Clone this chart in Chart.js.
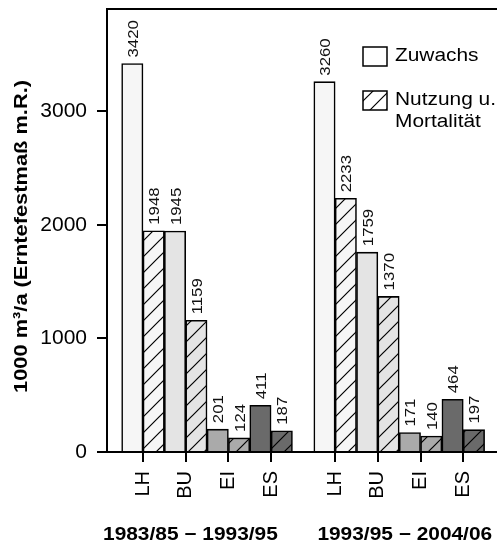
<!DOCTYPE html>
<html>
<head>
<meta charset="utf-8">
<script src="https://cdn.jsdelivr.net/npm/chart.js@4"></script>
<style>
  html, body { margin: 0; padding: 0; background: #fff; }
</style>
</head>
<body>
<canvas id="chart" width="497" height="547"></canvas>
<script>
// Chart data
const species = ['LH', 'BU', 'EI', 'ES'];
const periods = ['1983/85 \u2212 1993/95', '1993/95 \u2212 2004/06'];
const tickPositions = [1, 2, 3, 4, 5.5, 6.5, 7.5, 8.5];
const zuwachs = [3420, 1945, 201, 411, 3260, 1759, 171, 464];
const nutzung = [1948, 1159, 124, 187, 2233, 1370, 140, 197];
const yTicks = [0, 1000, 2000, 3000];
const seriesNames = ['Zuwachs', 'Nutzung u.|Mortalit\u00e4t'];
const yTitle = '1000 m\u00b3/a (Erntefestma\u00df m.R.)';

const FONT = '"Liberation Sans", Arial, Helvetica, sans-serif';
const speciesColors = ['#f6f6f6', '#e4e4e4', '#aaaaaa', '#6a6a6a'];

const canvas = document.getElementById('chart');
const ctx = canvas.getContext('2d');

// Diagonal hatch pattern on a given background
function hatch(color) {
  const size = 16;
  const tile = document.createElement('canvas');
  tile.width = size;
  tile.height = size;
  const g = tile.getContext('2d');
  g.fillStyle = color;
  g.fillRect(0, 0, size, size);
  g.strokeStyle = '#000';
  g.lineWidth = 1.2;
  g.beginPath();
  g.moveTo(-2, size + 2); g.lineTo(size + 2, -2);
  g.moveTo(-2, 2); g.lineTo(2, -2);
  g.moveTo(size - 2, size + 2); g.lineTo(size + 2, size - 2);
  g.stroke();
  return ctx.createPattern(tile, 'repeat');
}

// Text drawn with a stretch along its own direction
function stretchedText(c, text, x, y, angle, sx, font, align) {
  c.save();
  c.font = font;
  c.textAlign = align || 'left';
  c.textBaseline = 'alphabetic';
  c.translate(x, y);
  c.rotate(angle);
  c.scale(sx, 1);
  c.fillText(text, 0, 0);
  c.restore();
}

const valueLabels = {
  id: 'valueLabels',
  afterDatasetsDraw(chart) {
    const c = chart.ctx;
    c.fillStyle = '#111';
    chart.data.datasets.forEach((ds, di) => {
      chart.getDatasetMeta(di).data.forEach((bar, i) => {
        stretchedText(c, String(ds.data[i].y), bar.x + 5.5, bar.y - 6, -Math.PI / 2, 1.12, '15px ' + FONT, 'left');
      });
    });
  }
};

const decorations = {
  id: 'decorations',
  afterDraw(chart) {
    const c = chart.ctx;
    const area = chart.chartArea;
    const xs = chart.scales.x;

    // top frame line
    c.save();
    c.strokeStyle = '#000';
    c.lineWidth = 2;
    c.beginPath();
    c.moveTo(area.left - 1, area.top);
    c.lineTo(area.right, area.top);
    c.stroke();
    c.restore();

    c.fillStyle = '#000';

    // y axis title
    stretchedText(c, yTitle, 27, (area.top + area.bottom) / 2 + 6, -Math.PI / 2, 1.18, 'bold 18.5px ' + FONT, 'center');

    // period labels
    const periodCenters = [2.11, 7.13];
    periods.forEach((p, i) => {
      stretchedText(c, p, xs.getPixelForValue(periodCenters[i]), 540, 0, 1.16, 'bold 18px ' + FONT, 'center');
    });

    // legend
    const lx = 363, boxW = 24, boxH = 19;
    const fills = ['#ffffff', hatch('#ffffff')];
    const boxTops = [47, 91];
    fills.forEach((f, i) => {
      c.save();
      c.fillStyle = f;
      c.fillRect(lx, boxTops[i], boxW, boxH);
      c.strokeStyle = '#000';
      c.lineWidth = 1.5;
      c.strokeRect(lx, boxTops[i], boxW, boxH);
      c.restore();
      seriesNames[i].split('|').forEach((line, j) => {
        stretchedText(c, line, lx + 32, boxTops[i] + 14 + j * 22, 0, 1.16, '18px ' + FONT, 'left');
      });
    });
  }
};

const axisLine = { color: '#000', width: 2 };
const tickGrid = { drawOnChartArea: false, drawTicks: true, tickLength: 10, color: '#000', lineWidth: 2, offset: false };

new Chart(ctx, {
  type: 'bar',
  data: {
    datasets: [
      {
        label: 'Zuwachs',
        data: tickPositions.map((x, i) => ({ x: x, y: zuwachs[i] })),
        backgroundColor: tickPositions.map((x, i) => speciesColors[i % species.length]),
        borderColor: '#000',
        borderWidth: 1.6,
        categoryPercentage: 1,
        barPercentage: 1
      },
      {
        label: 'Nutzung u. Mortalität',
        data: tickPositions.map((x, i) => ({ x: x, y: nutzung[i] })),
        backgroundColor: tickPositions.map((x, i) => hatch(speciesColors[i % species.length])),
        borderColor: '#000',
        borderWidth: 1.6,
        categoryPercentage: 1,
        barPercentage: 1
      }
    ]
  },
  options: {
    responsive: false,
    animation: false,
    layout: { padding: { top: 9, left: 0, right: 0, bottom: 0 } },
    plugins: {
      legend: { display: false },
      tooltip: { enabled: false }
    },
    scales: {
      x: {
        type: 'linear',
        offset: false,
        min: 0.157,
        max: 9.29,
        afterBuildTicks: scale => { scale.ticks = tickPositions.map(v => ({ value: v })); },
        afterFit: scale => {
          scale.height = 95;
          scale.paddingLeft = 0;
          scale.paddingRight = 0;
        },
        grid: tickGrid,
        border: axisLine,
        ticks: {
          autoSkip: false,
          minRotation: 90,
          maxRotation: 90,
          padding: 9,
          color: '#000',
          font: { size: 20, family: FONT },
          callback: (value, index) => species[index % species.length]
        }
      },
      y: {
        min: 0,
        max: 3900,
        afterBuildTicks: scale => { scale.ticks = yTicks.map(v => ({ value: v })); },
        afterFit: scale => {
          scale.width = 107;
          scale.paddingTop = 0;
          scale.paddingBottom = 0;
        },
        grid: tickGrid,
        border: axisLine,
        ticks: {
          padding: 10,
          color: '#000',
          font: { size: 21, family: FONT },
          callback: value => String(value)
        }
      }
    }
  },
  plugins: [valueLabels, decorations]
});
</script>
</body>
</html>
